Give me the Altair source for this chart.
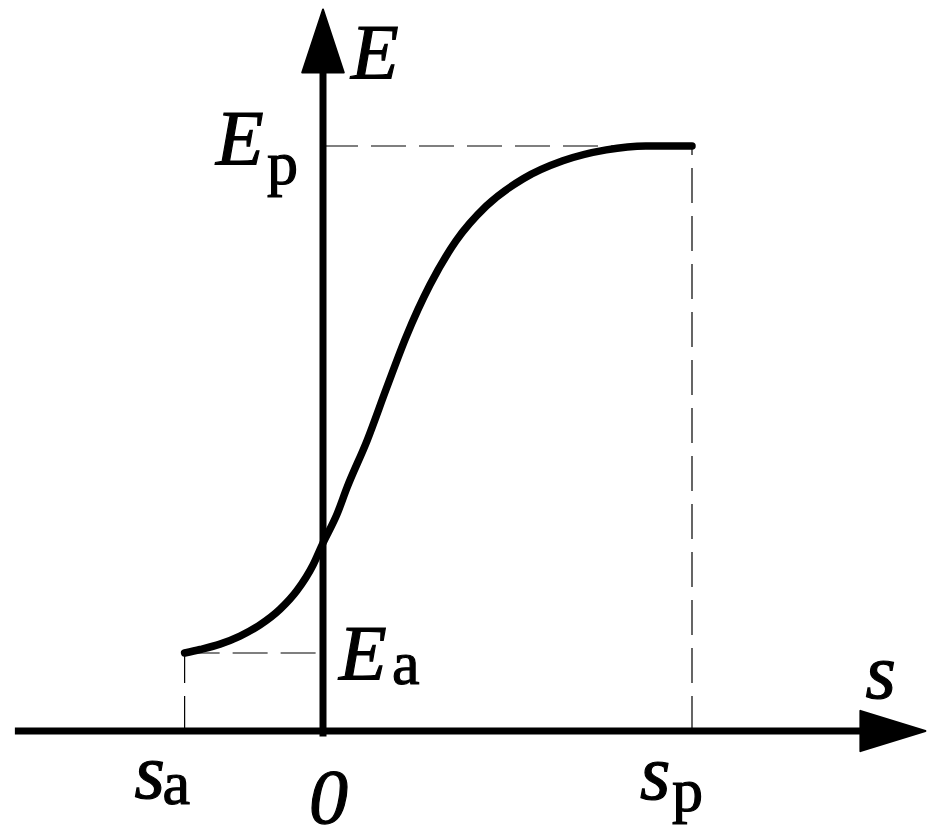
import altair as alt
import pandas as pd

# ---- data (schematic values) ----
curve_s = [-1.5, -1.333, -1.117, -0.90, -0.683, -0.466, -0.282, -0.108, 0.0, 0.152,
           0.26, 0.48, 0.69, 0.90, 1.16, 1.44, 1.77, 2.17, 2.60, 3.07, 3.50, 4.0]
curve_E = [1.0, 1.045, 1.114, 1.217, 1.36, 1.56, 1.80, 2.128, 2.41, 2.78,
           3.12, 3.73, 4.40, 5.05, 5.72, 6.28, 6.73, 7.08, 7.31, 7.45, 7.50, 7.5]

s_a, s_p = -1.5, 4.0
E_a, E_p = 1.0, 7.5

s_axis_start, s_axis_tip = -3.34, 6.53
E_axis_start, E_axis_tip = -0.07, 9.25

# ---- scales ----
X_DOM = [-3.4146, 6.5474]
Y_DOM = [-1.2436, 9.2564]
xs = alt.Scale(domain=X_DOM, nice=False, zero=False)
ys = alt.Scale(domain=Y_DOM, nice=False, zero=False)

W, H = 919, 819
FONT = "'Liberation Serif', 'Times New Roman', serif"

def X(f="s"):
    return alt.X(f"{f}:Q", scale=xs, axis=None)

def Y(f="E"):
    return alt.Y(f"{f}:Q", scale=ys, axis=None)

curve_df = pd.DataFrame({"s": curve_s, "E": curve_E})

curve = alt.Chart(curve_df).mark_line(
    color="black", strokeWidth=7.5, strokeCap="round", strokeJoin="round",
    interpolate="monotone"
).encode(x=X(), y=Y())

# axes (rules)
h_axis = alt.Chart(pd.DataFrame({"s": [s_axis_start], "s2": [s_axis_tip - 0.5], "E": [0.0]})).mark_rule(
    color="black", strokeWidth=7
).encode(x=X(), x2="s2:Q", y=Y())

v_axis = alt.Chart(pd.DataFrame({"s": [0.0], "E": [E_axis_start], "E2": [E_axis_tip - 0.6]})).mark_rule(
    color="black", strokeWidth=7
).encode(x=X(), y=Y(), y2="E2:Q")

# arrow heads
ARROW_R = "M1,0L-1,-0.62L-1,0.62Z"
ARROW_U = "M0,-1L0.66,1L-0.66,1Z"
h_len = 65 / 92.25  # arrow length in s units
v_len = 63 / 78.0   # arrow length in E units

arrow_r = alt.Chart(pd.DataFrame({"s": [s_axis_tip - h_len / 2], "E": [0.0]})).mark_point(
    shape=ARROW_R, size=65 * 65, filled=True, fill="black", stroke="black",
    strokeWidth=2, strokeJoin="round", opacity=1
).encode(x=X(), y=Y())

arrow_u = alt.Chart(pd.DataFrame({"s": [0.0], "E": [E_axis_tip - v_len / 2]})).mark_point(
    shape=ARROW_U, size=63 * 63, filled=True, fill="black", stroke="black",
    strokeWidth=2, strokeJoin="round", opacity=1
).encode(x=X(), y=Y())

# dashed guide lines
dash_df = pd.DataFrame({
    "s":  [s_a, s_a, 0.0, s_p],
    "s2": [s_a, 0.0, s_p, s_p],
    "E":  [0.0, E_a, E_p, 0.0],
    "E2": [E_a, E_a, E_p, E_p],
})
dashes = alt.Chart(dash_df).mark_rule(
    color="black", strokeWidth=1.2, strokeDash=[35, 13]
).encode(x=X(), x2="s2:Q", y=Y(), y2="E2:Q")

# labels
def label(text, s, E, dx, dy, size, italic):
    return alt.Chart(pd.DataFrame({"s": [s], "E": [E], "t": [text]})).mark_text(
        font=FONT, fontSize=size, fontStyle="italic" if italic else "normal",
        align="left", baseline="alphabetic", dx=dx, dy=dy, color="black",
        stroke="black", strokeWidth=1.2
    ).encode(x=X(), y=Y(), text="t:N")

MAIN, SUB = 78, 62
labels = [
    label("E", 0.0, E_axis_tip, 28, 69, MAIN, True),
    label("E", 0.0, E_p, -107, 18, MAIN, True),
    label("p", 0.0, E_p, -56, 38, SUB, False),
    label("E", 0.0, E_a, 16, 26, MAIN, True),
    label("a", 0.0, E_a, 69, 31, SUB, False),
    label("s", s_axis_tip, 0.0, -60, -33, MAIN, True),
    label("s", s_a, 0.0, -50, 67, MAIN, True),
    label("a", s_a, 0.0, -22, 73, SUB, False),
    label("0", 0.0, 0.0, -14, 92, MAIN, True),
    label("s", s_p, 0.0, -52, 68, MAIN, True),
    label("p", s_p, 0.0, -20, 80, SUB, False),
]

chart = alt.layer(
    dashes, h_axis, v_axis, arrow_r, arrow_u, curve, *labels
).properties(
    width=W, height=H, padding=0, background="white"
).configure_view(stroke=None)

chart.save("out.html", embed_options={"renderer": "svg", "actions": False})
